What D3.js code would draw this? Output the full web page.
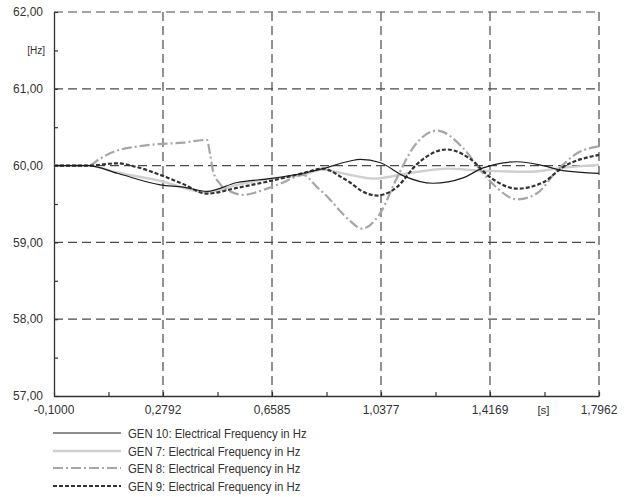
<!DOCTYPE html>
<html><head><meta charset="utf-8">
<script src="https://cdn.jsdelivr.net/npm/d3@7"></script>
<style>
html,body{margin:0;padding:0;background:#fff;}
text{font-family:"Liberation Sans",Arial,sans-serif;}
</style></head>
<body><svg id="c" width="626" height="497"></svg>
<script>
// ---- data ----
const xMajorTicks = [-0.1, 0.2792, 0.6585, 1.0377, 1.4169, 1.7962];
const xMajorLabels = ["-0,1000", "0,2792", "0,6585", "1,0377", "1,4169", "1,7962"];
const xMinorTicks = [0.0896, 0.4689, 0.8481, 1.2273, 1.6066];
const xUnitLabel = "[s]";
const yMajorTicks = [57, 58, 59, 60, 61, 62];
const yMajorLabels = ["57,00", "58,00", "59,00", "60,00", "61,00", "62,00"];
const yMinorTicks = [57.5, 58.5, 59.5, 60.5, 61.5];
const yUnitLabel = "[Hz]";

const seriesNames = [
  "GEN 10: Electrical Frequency in Hz",
  "GEN 7: Electrical Frequency in Hz",
  "GEN 8: Electrical Frequency in Hz",
  "GEN 9: Electrical Frequency in Hz"
];
const gen10T = [-0.1, 0.02, 0.12, 0.27, 0.35, 0.432, 0.537, 0.652, 0.766, 0.836, 0.93, 0.965, 1.034, 1.114, 1.219, 1.323, 1.393, 1.511, 1.601, 1.671, 1.7962];
const gen10F = [60, 60, 59.90, 59.75, 59.72, 59.665, 59.78, 59.83, 59.90, 59.96, 60.06, 60.08, 60.04, 59.87, 59.77, 59.84, 59.97, 60.05, 60.0, 59.935, 59.90];
const gen7T = [-0.1, 0.02, 0.12, 0.27, 0.432, 0.537, 0.652, 0.766, 0.836, 0.86, 0.93, 1.01, 1.149, 1.267, 1.382, 1.556, 1.671, 1.7962];
const gen7F = [60, 60, 59.91, 59.80, 59.65, 59.75, 59.83, 59.88, 59.95, 59.935, 59.88, 59.83, 59.91, 59.96, 59.935, 59.92, 59.974, 60.01];
const gen8T = [-0.1, 0.02, 0.06, 0.119, 0.175, 0.234, 0.349, 0.432, 0.443, 0.453, 0.478, 0.512, 0.558, 0.641, 0.697, 0.766, 0.815, 0.86, 0.895, 0.93, 0.972, 1.034, 1.093, 1.149, 1.233, 1.323, 1.393, 1.441, 1.511, 1.581, 1.650, 1.720, 1.7962];
const gen8F = [60, 60, 60.09, 60.195, 60.24, 60.27, 60.30, 60.335, 60.15, 59.935, 59.76, 59.665, 59.62, 59.70, 59.78, 59.88, 59.72, 59.56, 59.41, 59.28, 59.18, 59.375, 59.84, 60.23, 60.456, 60.23, 59.90, 59.71, 59.56, 59.64, 59.935, 60.16, 60.25];
const gen9T = [-0.1, 0.02, 0.119, 0.189, 0.269, 0.349, 0.432, 0.537, 0.652, 0.766, 0.836, 0.86, 0.895, 0.93, 0.97, 1.024, 1.093, 1.163, 1.267, 1.347, 1.417, 1.511, 1.601, 1.671, 1.7962];
const gen9F = [60, 60, 60.03, 59.98, 59.88, 59.76, 59.635, 59.71, 59.80, 59.90, 59.96, 59.935, 59.86, 59.78, 59.67, 59.61, 59.72, 60.02, 60.21, 60.09, 59.85, 59.70, 59.78, 59.98, 60.14];

// ---- chart ----
const svg = d3.select("#c");
const x = d3.scaleLinear().domain([-0.1, 1.7962]).range([54, 599]);
const y = d3.scaleLinear().domain([57, 62]).range([396, 12]);
const gridColor = "#4a4a4a";
const textColor = "#333";

// gridlines
svg.append("g").selectAll("line").data(yMajorTicks.filter(v => v > 57)).join("line")
  .attr("x1", x(-0.1)).attr("x2", x(1.7962))
  .attr("y1", d => y(d)).attr("y2", d => y(d))
  .attr("stroke", gridColor).attr("stroke-width", 1.2).attr("stroke-dasharray", "9,5");
svg.append("g").selectAll("line").data(xMajorTicks.filter(v => v > -0.1)).join("line")
  .attr("x1", d => x(d)).attr("x2", d => x(d))
  .attr("y1", y(62)).attr("y2", y(57))
  .attr("stroke", gridColor).attr("stroke-width", 1.2).attr("stroke-dasharray", "9,5");

// axes
const yAxis = d3.axisLeft(y).tickValues(yMinorTicks.concat(yMajorTicks)).tickSize(-4).tickSizeOuter(0).tickFormat("");
const gy = svg.append("g").attr("transform", `translate(${x(-0.1)},0)`).call(yAxis);
gy.select(".domain").attr("stroke", "#333").attr("stroke-width", 1.3);
gy.selectAll(".tick line").attr("stroke", "#333").attr("stroke-width", 1.2);

const xAxis = d3.axisBottom(x).tickValues(xMinorTicks.concat(xMajorTicks)).tickSize(-4).tickSizeOuter(0).tickFormat("");
const gx = svg.append("g").attr("transform", `translate(0,${y(57)})`).call(xAxis);
gx.select(".domain").attr("stroke", "#333").attr("stroke-width", 1.3);
gx.selectAll(".tick line").attr("stroke", "#333").attr("stroke-width", 1.2);

// tick labels
svg.append("g").selectAll("text").data(yMajorTicks).join("text")
  .attr("x", 43).attr("y", d => y(d)).attr("dy", "0.35em")
  .attr("text-anchor", "end").attr("font-size", 12).attr("fill", textColor)
  .text((d, i) => yMajorLabels[i]);
svg.append("text").attr("x", 45).attr("y", y(61.5)).attr("dy", "0.35em")
  .attr("text-anchor", "end").attr("font-size", 10).attr("fill", textColor).text(yUnitLabel);

svg.append("g").selectAll("text").data(xMajorTicks).join("text")
  .attr("x", d => x(d)).attr("y", 414)
  .attr("text-anchor", "middle").attr("font-size", 12).attr("fill", textColor)
  .text((d, i) => xMajorLabels[i]);
svg.append("text").attr("x", x(1.6066) - 1).attr("y", 414)
  .attr("text-anchor", "middle").attr("font-size", 11.5).attr("fill", textColor).text(xUnitLabel);

// series
const styles = [
  {stroke: "#1c1c1c", width: 1.2, dash: null},
  {stroke: "#cfcfcf", width: 2.4, dash: null},
  {stroke: "#a6a6a6", width: 2.2, dash: "10,3,2,3"},
  {stroke: "#333333", width: 2.2, dash: "4,2"}
];
const series = [
  {t: gen10T, f: gen10F},
  {t: gen7T, f: gen7F},
  {t: gen8T, f: gen8F},
  {t: gen9T, f: gen9F}
];
const line = d3.line().x(d => x(d[0])).y(d => y(d[1])).curve(d3.curveMonotoneX);
const drawOrder = [1, 2, 3, 0];
drawOrder.forEach(i => {
  const s = series[i], st = styles[i];
  const pts = s.t.map((t, k) => [t, s.f[k]]);
  svg.append("path").datum(pts).attr("d", line)
    .attr("fill", "none").attr("stroke", st.stroke).attr("stroke-width", st.width)
    .attr("stroke-dasharray", st.dash).attr("stroke-linejoin", "round");
});

// legend
const legY = [433, 451, 468, 486];
const leg = svg.append("g");
seriesNames.forEach((name, i) => {
  const st = styles[i];
  leg.append("line").attr("x1", 53).attr("x2", 121).attr("y1", legY[i]).attr("y2", legY[i])
    .attr("stroke", st.stroke).attr("stroke-width", st.width).attr("stroke-dasharray", st.dash);
  leg.append("text").attr("transform", `translate(128,${legY[i]}) scale(0.91,1)`)
    .attr("dy", "0.36em")
    .attr("font-size", 12.5).attr("fill", textColor).text(name);
});
</script>
</body></html>
